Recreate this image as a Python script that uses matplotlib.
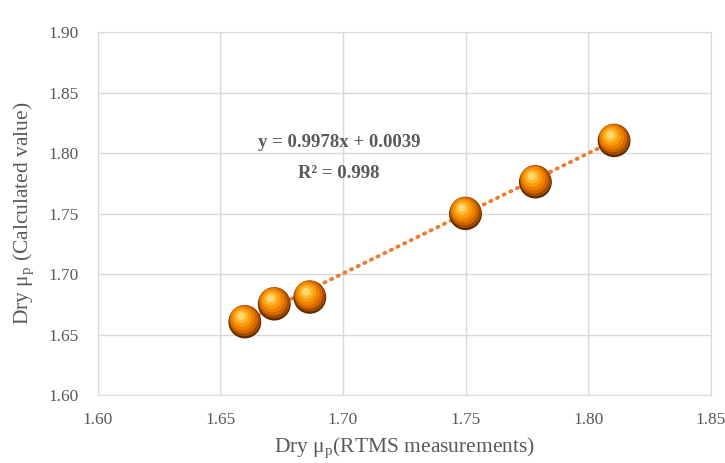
import numpy as np
import matplotlib.pyplot as plt
import matplotlib.transforms as mtransforms

plt.rcParams['font.family'] = ['Liberation Serif', 'DejaVu Serif']
plt.rcParams['mathtext.fontset'] = 'custom'
plt.rcParams['mathtext.rm'] = 'Liberation Serif'

# data
rtms = [1.660, 1.672, 1.6865, 1.750, 1.7785, 1.8106]
calc = [1.6615, 1.6763, 1.6819, 1.7511, 1.7773, 1.8115]
x_ticks = [1.60, 1.65, 1.70, 1.75, 1.80, 1.85]
y_ticks = [1.60, 1.65, 1.70, 1.75, 1.80, 1.85, 1.90]
eq_text = 'y = 0.9978x + 0.0039'
r2_text = 'R² = 0.998'

grey = '#595959'
fig = plt.figure(figsize=(7.25, 4.63), dpi=100)
ax = fig.add_axes([0.1348, 0.147, 0.8455, 0.783])

# trend line
coef = np.polyfit(rtms, calc, 1)
xl = np.array([min(rtms), max(rtms)])
ax.plot(xl, np.polyval(coef, xl), color='#ED7D31', lw=2.8,
        linestyle=(0, (0.3, 1.6)), dash_capstyle='round', zorder=2)

# shaded "sphere" markers built from stacked circles
layers = [
    (560, '#5E2A00', 0.0, -1.0),
    (510, '#A04A00', 0.0, 0.0),
    (410, '#D46800', -0.8, 0.9),
    (300, '#EE8200', -1.5, 1.7),
    (185, '#F99C10', -2.0, 2.3),
    (90, '#FFB830', -2.4, 2.8),
    (30, '#FFD970', -2.6, 3.1),
]
for s, c, dx, dy in layers:
    tr = mtransforms.offset_copy(ax.transData, fig=fig, x=dx, y=dy, units='points')
    ax.scatter(rtms, calc, s=s, color=c, edgecolors='none', transform=tr, zorder=3)

ax.text(1.6984, 1.8093, eq_text, ha='center', va='center', fontsize=13.5,
        fontweight='bold', color=grey)
ax.text(1.6984, 1.7836, r2_text, ha='center', va='center', fontsize=13.5,
        fontweight='bold', color=grey)

ax.set_xlim(1.60, 1.85)
ax.set_ylim(1.60, 1.90)
ax.set_xticks(x_ticks)
ax.set_yticks(y_ticks)
ax.set_xticklabels([f'{v:.2f}' for v in x_ticks])
ax.set_yticklabels([f'{v:.2f}' for v in y_ticks])
ax.tick_params(axis='x', length=0, labelsize=12.5, colors=grey, pad=12)
ax.tick_params(axis='y', length=0, labelsize=12.5, colors=grey, pad=14)
ax.grid(True, color='#D9D9D9', lw=1)
ax.set_axisbelow(True)
for sp in ax.spines.values():
    sp.set_color('#D9D9D9')

ax.set_xlabel(r'Dry μ$_\mathregular{p}$(RTMS measurements)', fontsize=15.5,
              color=grey, labelpad=6)
ax.set_ylabel(r'Dry μ$_\mathregular{p}$ (Calculated value)', fontsize=15.5,
              color=grey, labelpad=8)

fig.savefig('out.png', dpi=100)
